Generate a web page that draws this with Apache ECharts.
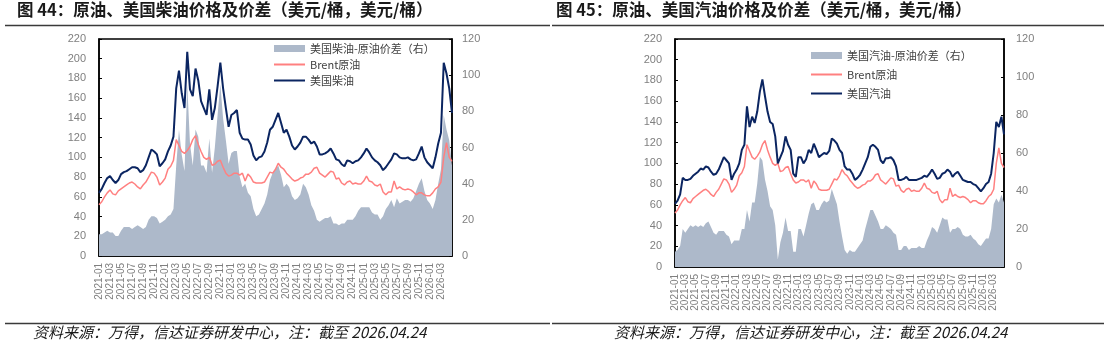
<!DOCTYPE html>
<html>
<head>
<meta charset="utf-8">
<script src="https://cdn.jsdelivr.net/npm/echarts@6/dist/echarts.min.js"></script>
<style>
  html, body { margin: 0; padding: 0; background: #fff; }
  #main { width: 1108px; height: 348px; }
</style>
</head>
<body>
<div id="main"></div>
<script>
// half-month dates, 2021-01 .. 2026-04-24
var dates = [];
for (var y = 2021; y <= 2026; y++) {
    for (var m = 1; m <= 12; m++) {
        if (y === 2026 && m > 4) break;
        var mm = (m < 10 ? '0' : '') + m;
        dates.push(y + '-' + mm + '-01');
        dates.push(y + '-' + mm + '-15');
    }
}
dates.push('2026-04-24');

// Brent 原油 (USD/bbl)
var brent = [
    52,55, 60,64, 67,63, 62,66, 68,70, 72,74, 75,73, 70,68, 72,75, 80,85, 84,80, 72,75,
    79,88, 91,97, 118,112, 106,104, 107,111, 118,122, 113,106, 100,98, 100,92, 93,96, 97,90, 84,81,
    82,84, 84,82, 84,76, 83,80, 75,74, 74,74, 75,80, 85,84, 88,94, 90,88, 84,81, 78,76,
    77,79, 80,83, 83,85, 89,90, 84,82, 80,83, 86,85, 78,79, 74,72, 75,76, 73,74, 73,73,
    76,81, 76,75, 72,71, 73,65, 62,65, 65,76, 68,70, 68,67, 68,67, 65,62, 64,64, 62,61,
    61,64, 68,70, 75,100, 115,100, 96
];

// 美国柴油 (USD/bbl)
var diesel = [
    64,68, 74,79, 81,77, 74,77, 83,85, 86,88, 90,90, 89,85, 87,92, 100,108, 106,103, 91,94,
    98,106, 112,121, 170,188, 165,150, 207,169, 162,190, 178,157, 150,143, 169,138, 150,172, 196,170, 150,131,
    143,145, 148,125, 119,118, 118,113, 102,97, 100,101, 106,115, 128,131, 138,145, 135,125, 128,121, 112,108,
    111,115, 121,121, 118,114, 116,111, 103,103, 104,106, 109,104, 98,97, 93,91, 97,96, 94,96, 97,100,
    104,109, 105,100, 97,95, 92,87, 90,94, 98,104, 103,100, 99,99, 100,98, 97,98, 104,111, 100,95,
    92,89, 100,114, 125,196, 185,170, 145
];

// 美国柴油-原油价差 (right axis)
var dieselSpread = [
    12,12, 13,14, 13,13, 11,11, 14,16, 16,16, 15,16, 17,16, 15,16, 20,22, 22,21, 18,19,
    20,22, 23,26, 50,70, 56,47, 95,62, 50,70, 66,50, 50,46, 65,46, 60,78, 95,76, 64,51,
    57,58, 58,44, 38,40, 35,33, 26,22, 23,26, 29,34, 42,46, 48,50, 45,38, 40,38, 33,31,
    32,34, 40,38, 34,28, 25,20, 19,20, 21,21, 22,18, 18,17, 18,18, 20,20, 20,22, 25,27,
    27,27, 27,24, 23,23, 20,22, 26,28, 31,27, 32,29, 30,31, 31,30, 32,36, 40,43, 36,31,
    29,26, 31,40, 48,78, 70,64, 50
];

// 美国汽油 (USD/bbl)
var gasoline = [
    61,64, 70,86, 84,84, 85,88, 90,92, 95,94, 97,96, 92,89, 90,94, 100,106, 103,100, 84,90,
    94,100, 113,118, 155,135, 145,139, 150,169, 181,165, 150,140, 138,126, 100,106, 112,126, 118,113, 90,87,
    106,106, 100,104, 113,110, 119,113, 106,108, 110,109, 112,124, 122,119, 113,110, 97,94, 94,90, 84,86,
    89,94, 100,106, 116,118, 116,113, 103,100, 105,105, 106,103, 97,84, 84,85, 87,84, 84,84, 84,85,
    86,88, 87,90, 94,90, 85,86, 90,91, 94,92, 87,90, 92,88, 84,83, 82,82, 80,79, 76,73,
    76,80, 82,90, 110,140, 135,145, 128
];

// 美国汽油-原油价差 (right axis)
var gasolineSpread = [
    8,9, 11,20, 18,20, 22,21, 22,21, 22,21, 23,24, 21,18, 17,19, 19,19, 17,16, 12,14,
    14,14, 20,20, 30,24, 34,34, 44,58, 56,46, 40,32, 30,22, 4,13, 18,26, 19,19, 8,8,
    20,20, 16,22, 28,33, 34,30, 30,33, 35,34, 35,41, 37,33, 24,16, 9,7, 9,8, 8,10,
    12,14, 20,25, 30,30, 27,24, 20,20, 22,21, 20,18, 17,9, 9,11, 11,9, 10,10, 10,11,
    10,10, 14,17, 21,20, 18,22, 26,25, 25,18, 20,20, 21,20, 17,16, 16,17, 15,14, 12,11,
    13,15, 15,20, 33,36, 34,38, 34
];

var GRAY = '#adb9ca', PINK = '#ff8080', NAVY = '#0b2561';
var LABEL = '#7f7f7f';
var FONT = '"Liberation Sans", "Noto Sans CJK SC", sans-serif';
var CJK = '"Noto Sans CJK SC", sans-serif';

// label/tick on the first day of every odd month, not on the last (2026-04-24) point
function everyTwoMonths(idx) { return idx % 4 === 0 && idx < dates.length - 1; }

function xAxisFor(gridIndex) {
    return {
        type: 'category', gridIndex: gridIndex, data: dates, boundaryGap: false,
        axisLine: { lineStyle: { color: '#000', width: 1.5 } },
        axisTick: { inside: true, length: 3, interval: everyTwoMonths, lineStyle: { color: '#000' } },
        axisLabel: {
            interval: everyTwoMonths, rotate: 90, margin: 7,
            fontSize: 10, color: LABEL, fontFamily: FONT,
            formatter: function (v) { return v.slice(0, 7); }
        },
        splitLine: { show: false }
    };
}

function yAxisFor(gridIndex, pos, max, margin) {
    return {
        type: 'value', gridIndex: gridIndex, position: pos, min: 0, max: max, interval: 20,
        axisLine: { show: true, lineStyle: { color: '#000', width: 1.5 } },
        axisTick: { show: true, inside: true, length: 3, lineStyle: { color: '#000' } },
        axisLabel: { fontSize: 11, color: LABEL, margin: margin, fontFamily: FONT },
        splitLine: { show: false }
    };
}

function legendFor(left, top, gap, spreadName, brentName, productName) {
    return {
        orient: 'vertical', left: left, top: top, itemGap: gap, padding: 0,
        itemWidth: 31, itemHeight: 7, selectedMode: false,
        textStyle: { fontSize: 11, color: '#404040', fontFamily: CJK },
        data: [
            { name: spreadName, icon: 'rect', itemStyle: { color: GRAY } },
            { name: brentName, itemStyle: { opacity: 0 } },
            { name: productName, itemStyle: { opacity: 0 } }
        ]
    };
}

var dName1 = '美国柴油-原油价差（右）', bName1 = 'Brent原油', pName1 = '美国柴油';
var dName2 = '美国汽油-原油价差（右）', bName2 = 'Brent原油 ', pName2 = '美国汽油';
var source = '资料来源：万得，信达证券研发中心，注：截至 2026.04.24';

var myChart = echarts.init(document.getElementById('main'));
var option = {
    animation: false,
    backgroundColor: '#fff',
    title: [
        { text: '图 44：原油、美国柴油价格及价差（美元/桶，美元/桶）', left: 17, top: 1, padding: 0,
          textStyle: { fontSize: 16.5, fontWeight: 'bold', color: '#1a1a1a', fontFamily: CJK } },
        { text: '图 45：原油、美国汽油价格及价差（美元/桶，美元/桶）', left: 556, top: 1, padding: 0,
          textStyle: { fontSize: 16.5, fontWeight: 'bold', color: '#1a1a1a', fontFamily: CJK } },
        { text: source, left: 33, top: 325, padding: 0,
          textStyle: { fontSize: 15, fontWeight: 'normal', fontStyle: 'italic', color: '#1a1a1a', fontFamily: CJK } },
        { text: source, left: 614, top: 325, padding: 0,
          textStyle: { fontSize: 15, fontWeight: 'normal', fontStyle: 'italic', color: '#1a1a1a', fontFamily: CJK } }
    ],
    graphic: [
        { type: 'line', shape: { x1: 5, y1: 25.5, x2: 550, y2: 25.5 }, style: { stroke: '#3a3a3a', lineWidth: 1.5 } },
        { type: 'line', shape: { x1: 552, y1: 25.5, x2: 1104, y2: 25.5 }, style: { stroke: '#3a3a3a', lineWidth: 1.5 } },
        { type: 'line', shape: { x1: 5, y1: 323.5, x2: 550, y2: 323.5 }, style: { stroke: '#3a3a3a', lineWidth: 1.5 } },
        { type: 'line', shape: { x1: 552, y1: 323.5, x2: 1104, y2: 323.5 }, style: { stroke: '#3a3a3a', lineWidth: 1.5 } }
    ],
    legend: [
        legendFor(273, 43, 5, dName1, bName1, pName1),
        legendFor(810, 50, 8, dName2, bName2, pName2)
    ],
    grid: [
        { left: 99, top: 39, width: 353, height: 217, show: true, borderColor: '#000', borderWidth: 1.5,
          containLabel: false, outerBoundsMode: 'none' },
        { left: 675, top: 39, width: 329, height: 228, show: true, borderColor: '#000', borderWidth: 1.5,
          containLabel: false, outerBoundsMode: 'none' }
    ],
    xAxis: [xAxisFor(0), xAxisFor(1)],
    yAxis: [
        yAxisFor(0, 'left', 220, 13),
        yAxisFor(0, 'right', 120, 10),
        yAxisFor(1, 'left', 220, 13),
        yAxisFor(1, 'right', 120, 12)
    ],
    series: [
        { name: dName1, type: 'line', xAxisIndex: 0, yAxisIndex: 1, data: dieselSpread, symbol: 'none',
          color: GRAY, lineStyle: { width: 0 }, areaStyle: { color: GRAY, opacity: 1 }, z: 1 },
        { name: bName1, type: 'line', xAxisIndex: 0, yAxisIndex: 0, data: brent, symbol: 'none',
          color: PINK, lineStyle: { color: PINK, width: 1.5 }, z: 2 },
        { name: pName1, type: 'line', xAxisIndex: 0, yAxisIndex: 0, data: diesel, symbol: 'none',
          color: NAVY, lineStyle: { color: NAVY, width: 2 }, z: 3 },

        { name: dName2, type: 'line', xAxisIndex: 1, yAxisIndex: 3, data: gasolineSpread, symbol: 'none',
          color: GRAY, lineStyle: { width: 0 }, areaStyle: { color: GRAY, opacity: 1 }, z: 1 },
        { name: bName2, type: 'line', xAxisIndex: 1, yAxisIndex: 2, data: brent, symbol: 'none',
          color: PINK, lineStyle: { color: PINK, width: 1.5 }, z: 2 },
        { name: pName2, type: 'line', xAxisIndex: 1, yAxisIndex: 2, data: gasoline, symbol: 'none',
          color: NAVY, lineStyle: { color: NAVY, width: 2 }, z: 3 }
    ]
};
myChart.setOption(option);
</script>
</body>
</html>
